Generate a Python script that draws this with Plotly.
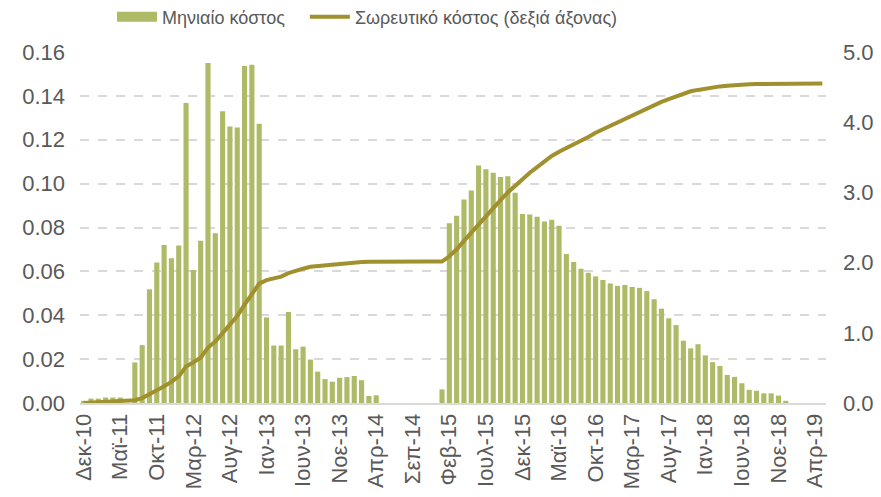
import plotly.graph_objects as go

# ------------------------------------------------------------
# Data
# ------------------------------------------------------------

MONTHS = ["Ιαν", "Φεβ", "Μαρ", "Απρ", "Μαϊ", "Ιουν",
          "Ιουλ", "Αυγ", "Σεπ", "Οκτ", "Νοε", "Δεκ"]

# Dec-10 .. May-19, monthly
categories = ["Δεκ-10"] + [f"{m}-{y}" for y in range(11, 19) for m in MONTHS] \
    + [f"{m}-19" for m in MONTHS[:5]]

monthly_cost = [
    0.001, 0.002, 0.002, 0.0025, 0.0025, 0.0025, 0.0, 0.0185, 0.0264, 0.0518,
    0.064, 0.072, 0.066, 0.0718, 0.1368, 0.0606, 0.074, 0.155, 0.0774, 0.133,
    0.126, 0.1256, 0.1536, 0.1542, 0.1273, 0.039, 0.0262, 0.0262, 0.0415, 0.0245,
    0.0257, 0.0198, 0.0143, 0.0109, 0.0097, 0.0115, 0.0118, 0.0123, 0.0104, 0.0032,
    0.0035, 0.0, 0.0, 0.0, 0.0, 0.0, 0.0, 0.0, 0.0, 0.0062,
    0.0819, 0.0854, 0.0928, 0.0969, 0.1083, 0.1065, 0.105, 0.103, 0.1034, 0.0958,
    0.0861, 0.0859, 0.0849, 0.0827, 0.0835, 0.0808, 0.0679, 0.0643, 0.0612, 0.0594,
    0.0577, 0.0561, 0.0545, 0.0534, 0.0538, 0.0529, 0.0525, 0.051, 0.0473, 0.043,
    0.0386, 0.0355, 0.0284, 0.0249, 0.0268, 0.0217, 0.0186, 0.0169, 0.0128, 0.0119,
    0.009, 0.006, 0.0056, 0.0044, 0.0044, 0.0034, 0.001, 0.0, 0.0, 0.0,
    0.0, 0.0,
]

cumulative_cost = [
    0.0, 0.005, 0.01, 0.015, 0.02, 0.02, 0.025, 0.04, 0.07, 0.12,
    0.18, 0.24, 0.30, 0.38, 0.52, 0.58, 0.645, 0.79, 0.875, 0.995,
    1.11, 1.24, 1.40, 1.56, 1.70, 1.75, 1.78, 1.80, 1.85, 1.885,
    1.913, 1.94, 1.95, 1.966, 1.975, 1.99, 1.995, 2.005, 2.01, 2.012,
    2.014, 2.015, 2.015, 2.015, 2.015, 2.015, 2.015, 2.015, 2.015, 2.015,
    2.09, 2.19, 2.31, 2.43, 2.55, 2.66, 2.78, 2.89, 3.0, 3.10,
    3.19, 3.28, 3.36, 3.44, 3.52, 3.58, 3.63, 3.69, 3.74, 3.79,
    3.85, 3.90, 3.95, 3.99, 4.04, 4.09, 4.15, 4.20, 4.25, 4.29,
    4.33, 4.37, 4.41, 4.44, 4.46, 4.48, 4.50, 4.51, 4.52, 4.53,
    4.535, 4.54, 4.543, 4.545, 4.547, 4.549, 4.55, 4.55, 4.55, 4.55,
    4.55, 4.55,
]

tick_labels = categories[::5]

# ------------------------------------------------------------
# Styling
# ------------------------------------------------------------

BAR_COLOR = "#AEBA66"
LINE_COLOR = "#A0902E"
TEXT_COLOR = "#595959"
GRID_COLOR = "#D9D9D9"
FONT = "Liberation Sans, Arial, sans-serif"
TICK_SIZE = 22

fig = go.Figure()

fig.add_trace(go.Bar(
    x=categories, y=monthly_cost, name="Μηνιαίο κόστος",
    marker=dict(color=BAR_COLOR, line=dict(width=0)),
    showlegend=False,
))
# legend swatch for the bars (wide rectangle like the original)
fig.add_trace(go.Scatter(
    x=[None], y=[None], mode="lines", name="Μηνιαίο κόστος   ",
    line=dict(color=BAR_COLOR, width=13),
))
fig.add_trace(go.Scatter(
    x=categories, y=cumulative_cost, name="Σωρευτικό κόστος (δεξιά άξονας)",
    mode="lines", line=dict(color=LINE_COLOR, width=4),
    yaxis="y2",
))

fig.update_layout(
    width=881,
    height=497,
    margin=dict(l=80, r=55, t=52, b=94, autoexpand=False),
    paper_bgcolor="white",
    plot_bgcolor="white",
    font=dict(family=FONT, size=18, color=TEXT_COLOR),
    bargap=0.3,
    showlegend=True,
    legend=dict(
        orientation="h", x=(112 - 80) / 746, xanchor="left",
        y=1 + (52 - 17) / 351, yanchor="middle",
        font=dict(size=18, color=TEXT_COLOR), itemwidth=40,
        traceorder="normal", bgcolor="rgba(0,0,0,0)",
    ),
    xaxis=dict(
        type="category",
        range=[-0.5, len(categories) - 0.5],
        tickmode="array", tickvals=tick_labels, ticktext=tick_labels,
        tickangle=-90, ticks="", showgrid=False,
        showline=True, linecolor=GRID_COLOR, linewidth=2,
        ticklabelstandoff=0,
        tickfont=dict(size=TICK_SIZE, color=TEXT_COLOR),
    ),
    yaxis=dict(
        range=[0, 0.16], dtick=0.02, tickformat=".2f",
        showgrid=True, gridcolor=GRID_COLOR, griddash="dash", gridwidth=1.5,
        zeroline=False, ticks="", ticklabelstandoff=14,
        tickfont=dict(size=TICK_SIZE, color=TEXT_COLOR),
    ),
    yaxis2=dict(
        range=[0, 5], dtick=1, tickformat=".1f",
        overlaying="y", side="right", showgrid=False, zeroline=False,
        ticks="", ticklabelstandoff=16,
        tickfont=dict(size=TICK_SIZE, color=TEXT_COLOR),
    ),
)

# remove the default page margin so the figure sits at the window origin
fig.write_html("out.html", config={"displayModeBar": False},
               post_script="document.body.style.margin='0px';")
